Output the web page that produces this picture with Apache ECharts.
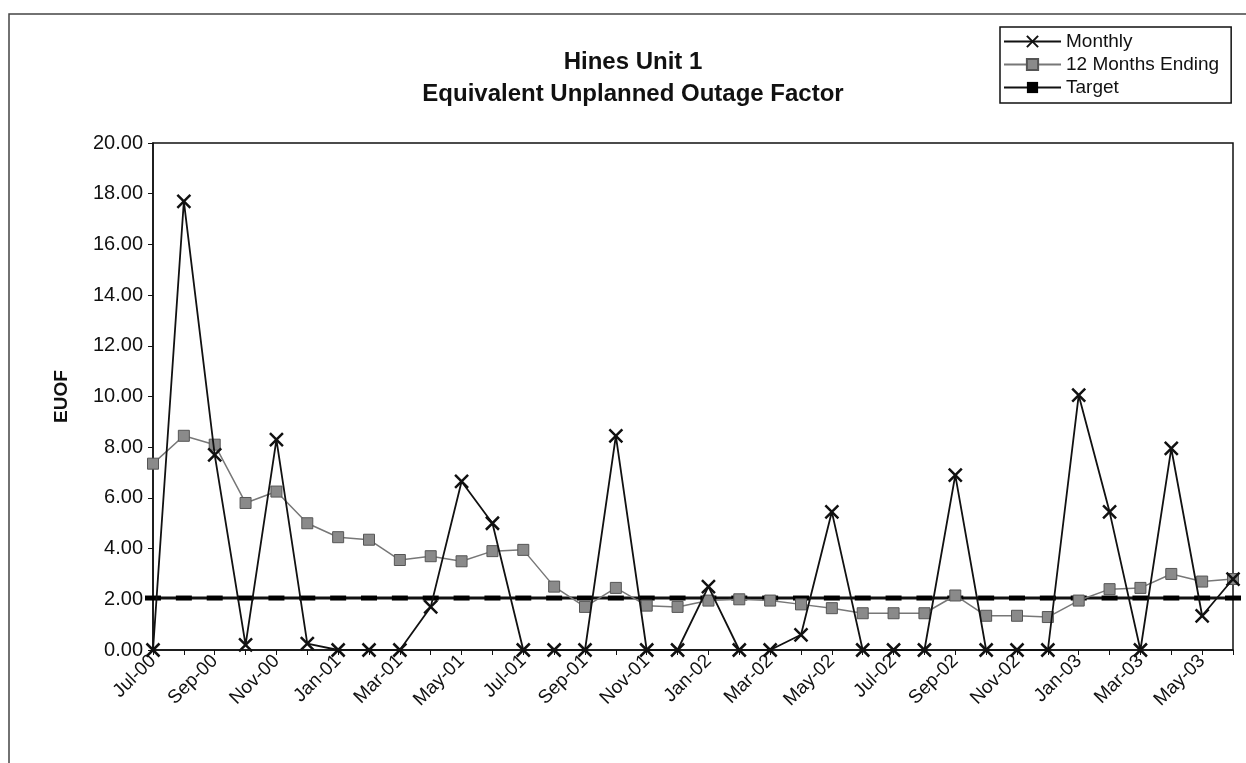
<!DOCTYPE html>
<html><head><meta charset="utf-8">
<script src="https://cdn.jsdelivr.net/npm/echarts@6/dist/echarts.min.js"></script>
<style>html,body{margin:0;padding:0;background:#fff}#c{width:1246px;height:763px}</style>
</head><body><div id="c"></div>
<script>
const categories = ['Jul-00','Aug-00','Sep-00','Oct-00','Nov-00','Dec-00','Jan-01','Feb-01','Mar-01','Apr-01','May-01','Jun-01',
  'Jul-01','Aug-01','Sep-01','Oct-01','Nov-01','Dec-01','Jan-02','Feb-02','Mar-02','Apr-02','May-02','Jun-02',
  'Jul-02','Aug-02','Sep-02','Oct-02','Nov-02','Dec-02','Jan-03','Feb-03','Mar-03','Apr-03','May-03','Jun-03'];
const monthly = [0,17.7,7.7,0.2,8.3,0.25,0,0,0,1.7,6.65,5.0,
  0,0,0,8.45,0,0,2.5,0,0,0.6,5.45,0,
  0,0,6.9,0,0,0,10.05,5.45,0,7.95,1.35,2.8];
const twelveMonths = [7.35,8.45,8.1,5.8,6.25,5.0,4.45,4.35,3.55,3.7,3.5,3.9,
  3.95,2.5,1.7,2.45,1.75,1.7,1.95,2.0,1.95,1.8,1.65,1.45,
  1.45,1.45,2.15,1.35,1.35,1.3,1.95,2.4,2.45,3.0,2.7,2.8];
const target = [2.05,2.05,2.05,2.05,2.05,2.05,2.05,2.05,2.05,2.05,2.05,2.05,
  2.05,2.05,2.05,2.05,2.05,2.05,2.05,2.05,2.05,2.05,2.05,2.05,
  2.05,2.05,2.05,2.05,2.05,2.05,2.05,2.05,2.05,2.05,2.05,2.05];
const yTicks = {min:0, max:20, interval:2};

const font = 'Liberation Sans, Arial, sans-serif';
const chart = echarts.init(document.getElementById('c'));
chart.setOption({
  animation:false,
  backgroundColor:'#fff',
  textStyle:{fontFamily:font},
  graphic:[{type:'rect',shape:{x:9,y:14,width:1250,height:800},style:{fill:'none',stroke:'#444',lineWidth:1.5}}],
  title:{text:'Hines Unit 1\nEquivalent Unplanned Outage Factor',left:628,top:41,textAlign:'center',
    textStyle:{fontFamily:font,fontSize:24,fontWeight:'bold',color:'#111',lineHeight:32}},
  legend:{orient:'vertical',left:1000,top:27,padding:[5,12,6,3],itemGap:4,itemWidth:57,itemHeight:14,
    borderColor:'#111',borderWidth:1.5,backgroundColor:'#fff',
    textStyle:{fontFamily:font,fontSize:19,color:'#111'},
    data:['Monthly','12 Months Ending','Target']},
  grid:{left:153,right:13,top:143,bottom:113,show:true,borderColor:'#111',borderWidth:1.5},
  xAxis:{type:'category',data:categories,boundaryGap:false,
    axisLine:{lineStyle:{color:'#111',width:1.5}},
    axisTick:{interval:0,length:5,lineStyle:{color:'#111'}},
    axisLabel:{interval:1,rotate:45,fontSize:19,color:'#111',fontFamily:font,margin:8}},
  yAxis:{type:'value',min:yTicks.min,max:yTicks.max,interval:yTicks.interval,
    name:'EUOF',nameLocation:'middle',nameGap:82,nameRotate:90,
    nameTextStyle:{fontFamily:font,fontSize:19,fontWeight:'bold',color:'#111'},
    splitLine:{show:false},
    axisLine:{show:true,lineStyle:{color:'#111',width:1.5}},
    axisTick:{show:true,length:5,lineStyle:{color:'#111'}},
    axisLabel:{fontSize:20,color:'#111',fontFamily:font,margin:10,formatter:v=>v.toFixed(2)}},
  series:[
    {name:'Target',type:'line',data:target,z:2,
      symbol:'rect',symbolSize:[16,5],
      lineStyle:{color:'#111',width:3},itemStyle:{color:'#000'}},
    {name:'12 Months Ending',type:'line',data:twelveMonths,z:3,
      symbol:'rect',symbolSize:11,
      lineStyle:{color:'#777',width:1.5},itemStyle:{color:'#8a8a8a',borderColor:'#555',borderWidth:1}},
    {name:'Monthly',type:'line',data:monthly,z:4,
      symbol:'path://M0,0L10,10M10,0L0,10',symbolSize:13,
      lineStyle:{color:'#111',width:1.8},itemStyle:{color:'#111',borderColor:'#111',borderWidth:2.5}}
  ]
});
</script></body></html>
